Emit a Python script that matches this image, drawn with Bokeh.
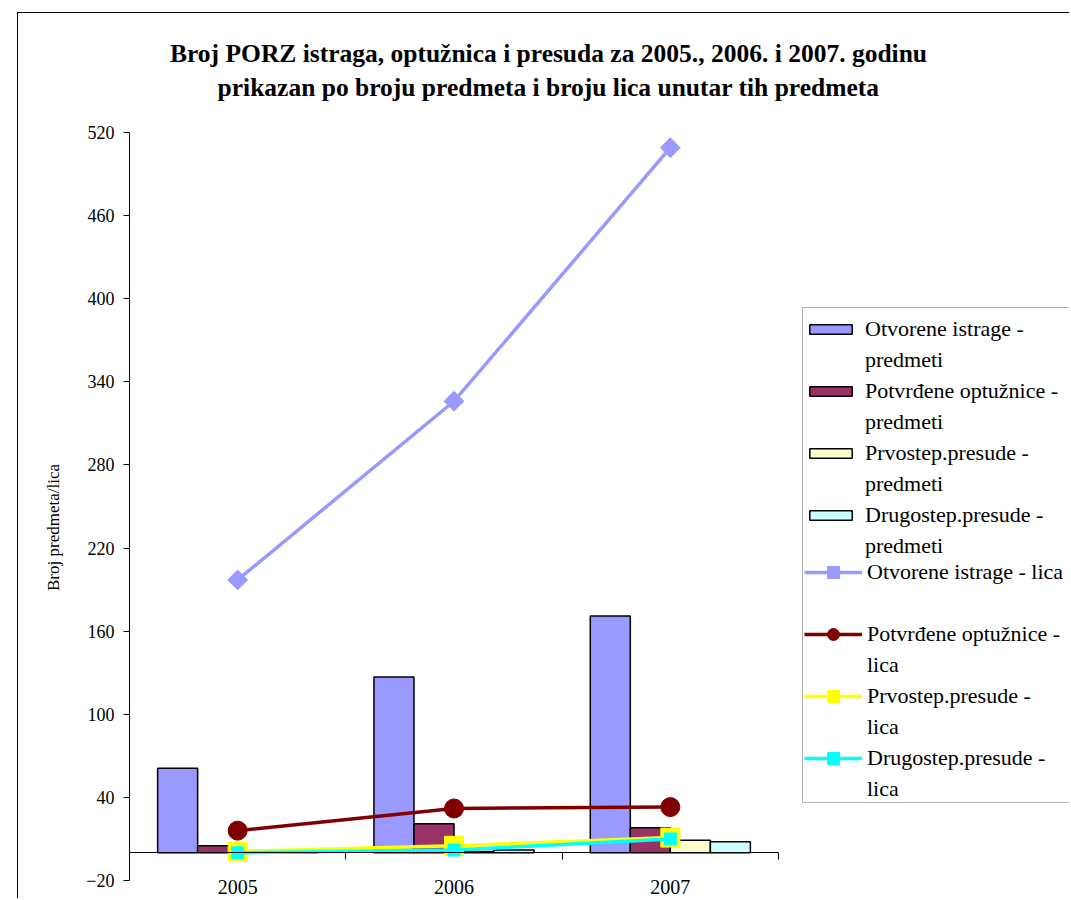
import math
from bokeh.plotting import figure
from bokeh.models import (Range1d, FixedTicker, Legend, LegendItem, Label,
                          LinearAxis, ColumnDataSource, BoxAnnotation)
from bokeh.embed import file_html
from bokeh.resources import INLINE

years = ["2005", "2006", "2007"]
istrage_predmeti = [61, 127, 171]
optuznice_predmeti = [5, 21, 18]
prvostep_predmeti = [0, 1, 9]
drugostep_predmeti = [0, 2, 8]
istrage_lica = [197, 326, 509]
optuznice_lica = [16, 32, 33]
prvostep_lica = [1, 5, 11]
drugostep_lica = [0, 2, 10]
y_ticks = list(range(-20, 521, 60))

title1 = "Broj PORZ istraga, optužnica i presuda za 2005., 2006. i 2007. godinu"
title2 = "prikazan po broju predmeta i broju lica unutar tih predmeta"
y_label = "Broj predmeta/lica"

bar_names = [["Otvorene istrage -", "predmeti"],
             ["Potvrđene optužnice -", "predmeti"],
             ["Prvostep.presude -", "predmeti"],
             ["Drugostep.presude -", "predmeti"]]
line_names = [["Otvorene istrage - lica", " "],
              ["Potvrđene optužnice -", "lica"],
              ["Prvostep.presude -", "lica"],
              ["Drugostep.presude -", "lica"]]

FONT = "Liberation Serif"
QFONT = "'Liberation Serif'"

# layout (canvas pixels; canvas origin is at page (18, 13))
OX, OY = 18, 13
W, H = 1052, 886
PL, PR = 111, 760      # plot area left/right
PT, PB = 119, 867      # plot area top/bottom

xs = list(range(len(years)))
x0, x1 = -0.5, len(years) - 0.5
xpx = (PR - PL) / (x1 - x0)
ylo, yhi = y_ticks[0], y_ticks[-1]
ypx = (PB - PT) / (yhi - ylo)

p = figure(width=W, height=H, output_backend="svg", toolbar_location=None,
           x_range=Range1d(x0 - PL / xpx, x1 + (W - PR) / xpx),
           y_range=Range1d(ylo - (H - PB) / ypx, yhi + PT / ypx),
           min_border_left=0, min_border_right=0, min_border_top=0,
           min_border_bottom=0, x_axis_type=None, y_axis_type=None,
           margin=(12, 0, 0, 17),
           styles={"border-left": "1px solid black", "border-top": "1px solid black"})
p.outline_line_color = None
p.grid.visible = False
p.background_fill_color = "white"
p.border_fill_color = "white"

# legend frame (drawn first, under everything else)
p.add_layout(BoxAnnotation(left=802 - OX, right=1200, top=H - (307 - OY),
                           bottom=H - (802 - OY), left_units="screen",
                           right_units="screen", top_units="screen",
                           bottom_units="screen", fill_color="white", fill_alpha=1,
                           line_color="black", line_width=1))

# y axis
yax = LinearAxis(ticker=FixedTicker(ticks=y_ticks), bounds=(ylo, yhi), fixed_location=x0)
yax.minor_tick_line_color = None
yax.major_tick_in = 0
yax.major_tick_out = 6
yax.axis_line_color = "black"
yax.major_tick_line_color = "black"
yax.major_label_text_font = FONT
yax.major_label_text_font_size = "18px"
yax.major_label_text_color = "black"
yax.major_label_standoff = 9
p.add_layout(yax, "left")

# x axis: boundary ticks
bounds_ticks = [x - 0.5 for x in xs] + [xs[-1] + 0.5]
xax1 = LinearAxis(ticker=FixedTicker(ticks=bounds_ticks), fixed_location=0,
                  bounds=(x0, x1), major_label_overrides={t: "" for t in bounds_ticks})
xax1.minor_tick_line_color = None
xax1.major_tick_in = 0
xax1.major_tick_out = 7
xax1.axis_line_color = "black"
xax1.major_tick_line_color = "black"
p.add_layout(xax1, "below")

xax2 = LinearAxis(ticker=FixedTicker(ticks=xs), fixed_location=0, bounds=(x0, x1),
                  major_label_overrides={x: y for x, y in zip(xs, years)})
xax2.minor_tick_line_color = None
xax2.major_tick_line_color = None
xax2.axis_line_color = None
xax2.major_label_text_font = FONT
xax2.major_label_text_font_size = "20px"
xax2.major_label_text_color = "black"
xax2.major_label_standoff = 21
p.add_layout(xax2, "below")

# invisible renderer for legend continuation rows
blank = p.scatter([], [], size=1, alpha=0)

# bars
bw = 0.185
offsets = [-1.5 * bw, -0.5 * bw, 0.5 * bw, 1.5 * bw]
bar_series = [
    (istrage_predmeti, "#9999FF"),
    (optuznice_predmeti, "#993366"),
    (prvostep_predmeti, "#FFFFCC"),
    (drugostep_predmeti, "#CCFFFF"),
]
items_a = []
for (vals, col), off, names in zip(bar_series, offsets, bar_names):
    src = ColumnDataSource(dict(x=[x + off for x in xs], top=vals))
    r = p.vbar(x="x", top="top", bottom=0, width=bw, source=src, fill_color=col,
               line_color="black", line_width=1.5)
    items_a.append(LegendItem(label=names[0], renderers=[r]))
    items_a.append(LegendItem(label=names[1], renderers=[blank]))

line_series = [
    (istrage_lica, "#9999FF", "square", 14, math.pi / 4),
    (optuznice_lica, "#800000", "circle", 19, 0),
    (prvostep_lica, "#FFFF00", "square", 19, 0),
    (drugostep_lica, "#00FFFF", "square", 12, 0),
]
items_b = []
for (vals, col, mk, sz, ang), names in zip(line_series, line_names):
    src = ColumnDataSource(dict(x=xs, y=vals))
    l = p.line("x", "y", source=src, line_color=col, line_width=3.5)
    m = p.scatter("x", "y", source=src, marker=mk, size=sz, angle=ang,
                  fill_color=col, line_color=col)
    items_b.append(LegendItem(label=names[0], renderers=[l, m]))
    items_b.append(LegendItem(label=names[1], renderers=[blank]))


def make_legend(items, left, top, pad, gw, gh, standoff, rows):
    height = 2 * pad + rows * 31
    lg = Legend(items=items, location=(left - OX, H - (top + height - OY)))
    lg.label_text_font = QFONT
    lg.label_text_font_size = "22px"
    lg.label_text_color = "black"
    lg.label_height = 31
    lg.glyph_width = gw
    lg.glyph_height = gh
    lg.label_standoff = standoff
    lg.padding = pad
    lg.spacing = 0
    lg.margin = 0
    lg.border_line_color = None
    lg.background_fill_alpha = 0
    return lg


p.add_layout(make_legend(items_a, 804, 307, 3, 53, 12, 8, len(items_a)), "center")
p.add_layout(make_legend(items_b, 804, 554, 1, 58, 30, 5, len(items_b)), "center")

for txt, yy in [(title1, 53), (title2, 87)]:
    p.add_layout(Label(x=548 - OX, y=H - (yy - OY), x_units="screen", y_units="screen",
                       text=txt, text_align="center", text_baseline="middle",
                       text_font=QFONT, text_font_size="25.5px",
                       text_font_style="bold", text_color="black"))

p.add_layout(Label(x=53 - OX, y=H - (527 - OY), x_units="screen", y_units="screen",
                   text=y_label, angle=math.pi / 2, text_align="center",
                   text_baseline="middle", text_font=QFONT, text_font_size="17px",
                   text_color="black"))

open("out.html", "w").write(file_html(p, INLINE))
